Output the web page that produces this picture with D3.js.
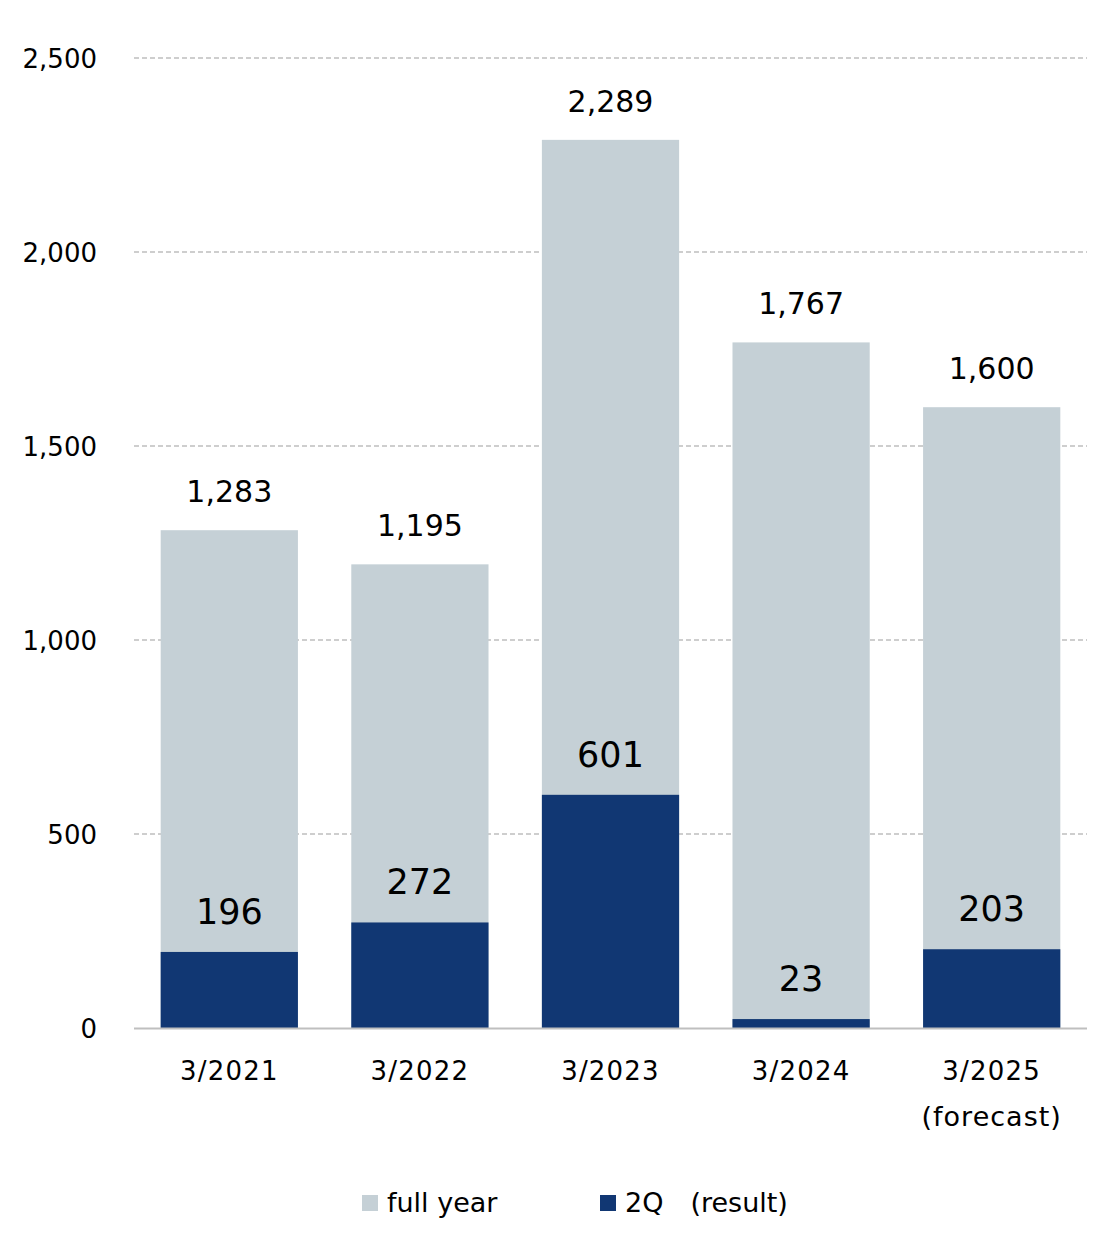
<!DOCTYPE html>
<html><head><meta charset="utf-8">
<script src="https://cdn.jsdelivr.net/npm/d3@7"></script>
<style>body{margin:0;background:#fff;} svg{display:block;font-family:Verdana,"DejaVu Sans",sans-serif;}</style>
</head><body>
<svg id="c" width="1115" height="1249"></svg>
<script>
const categories = ["3/2021","3/2022","3/2023","3/2024","3/2025"];
const subLabels = ["","","","","(forecast)"];
const fullYear = [1283,1195,2289,1767,1600];
const q2 = [196,272,601,23,203];
const yTicks = [0,500,1000,1500,2000,2500];
const seriesNames = ["full year","2Q\u3000(result)"];
const colors = ["#C5D0D6","#113773"];

(function(){
const svg = d3.select("#c");
const pLeft = 134, pRight = 1087, pTop = 58, pBottom = 1028;
const x = d3.scaleBand().domain(categories).range([pLeft,pRight]).paddingInner(0.28).paddingOuter(0.14);
const y = d3.scaleLinear().domain([0,2500]).range([pBottom,pTop]);
const fmt = d3.format(",");

svg.append("g").selectAll("line").data(yTicks.filter(d=>d>0)).join("line")
  .attr("x1",pLeft).attr("x2",pRight).attr("y1",d=>y(d)).attr("y2",d=>y(d))
  .attr("stroke","#BFBFBF").attr("stroke-width",1.3).attr("stroke-dasharray","5,3");

const yAxis = d3.axisLeft(y).tickValues(yTicks).tickFormat(fmt).tickSize(0).tickPadding(0);
const ya = svg.append("g").attr("transform",`translate(97,0)`).call(yAxis);
ya.select(".domain").remove();
ya.selectAll("text").attr("font-size",26).attr("fill","#000").attr("font-family","Verdana,'DejaVu Sans',sans-serif").attr("dy","0.36em");

svg.append("g").selectAll("rect").data(categories).join("rect")
  .attr("x",d=>x(d)).attr("width",x.bandwidth())
  .attr("y",(d,i)=>y(fullYear[i])).attr("height",(d,i)=>y(0)-y(fullYear[i]))
  .attr("fill",colors[0]);
svg.append("g").selectAll("rect").data(categories).join("rect")
  .attr("x",d=>x(d)).attr("width",x.bandwidth())
  .attr("y",(d,i)=>y(q2[i])).attr("height",(d,i)=>y(0)-y(q2[i]))
  .attr("fill",colors[1]);

svg.append("line").attr("x1",pLeft).attr("x2",pRight).attr("y1",y(0)+0.5).attr("y2",y(0)+0.5)
  .attr("stroke","#BFBFBF").attr("stroke-width",2);

svg.append("g").selectAll("text").data(categories).join("text")
  .attr("x",d=>x(d)+x.bandwidth()/2).attr("y",(d,i)=>y(fullYear[i])-28)
  .attr("text-anchor","middle").attr("font-size",30).attr("fill","#000")
  .text((d,i)=>fmt(fullYear[i]));
svg.append("g").selectAll("text").data(categories).join("text")
  .attr("x",d=>x(d)+x.bandwidth()/2).attr("y",(d,i)=>y(q2[i])-28)
  .attr("text-anchor","middle").attr("font-size",35).attr("fill","#000")
  .text((d,i)=>fmt(q2[i]));

const xl = svg.append("g");
xl.selectAll("text.c").data(categories).join("text").attr("class","c")
  .attr("x",d=>x(d)+x.bandwidth()/2).attr("y",1080)
  .attr("text-anchor","middle").attr("font-size",26).attr("letter-spacing",1.2).attr("fill","#000").text(d=>d);
xl.selectAll("text.s").data(categories).join("text").attr("class","s")
  .attr("x",d=>x(d)+x.bandwidth()/2).attr("y",1126)
  .attr("text-anchor","middle").attr("font-size",27).attr("letter-spacing",1).attr("fill","#000").text((d,i)=>subLabels[i]);

const legX = [362,600];
const lg = svg.append("g").selectAll("g").data(seriesNames).join("g")
  .attr("transform",(d,i)=>`translate(${legX[i]},1195)`);
lg.append("rect").attr("width",16).attr("height",16).attr("fill",(d,i)=>colors[i]);
lg.append("text").attr("x",25).attr("y",17).attr("font-size",27).attr("fill","#000").text(d=>d);
})();
</script>
</body></html>
